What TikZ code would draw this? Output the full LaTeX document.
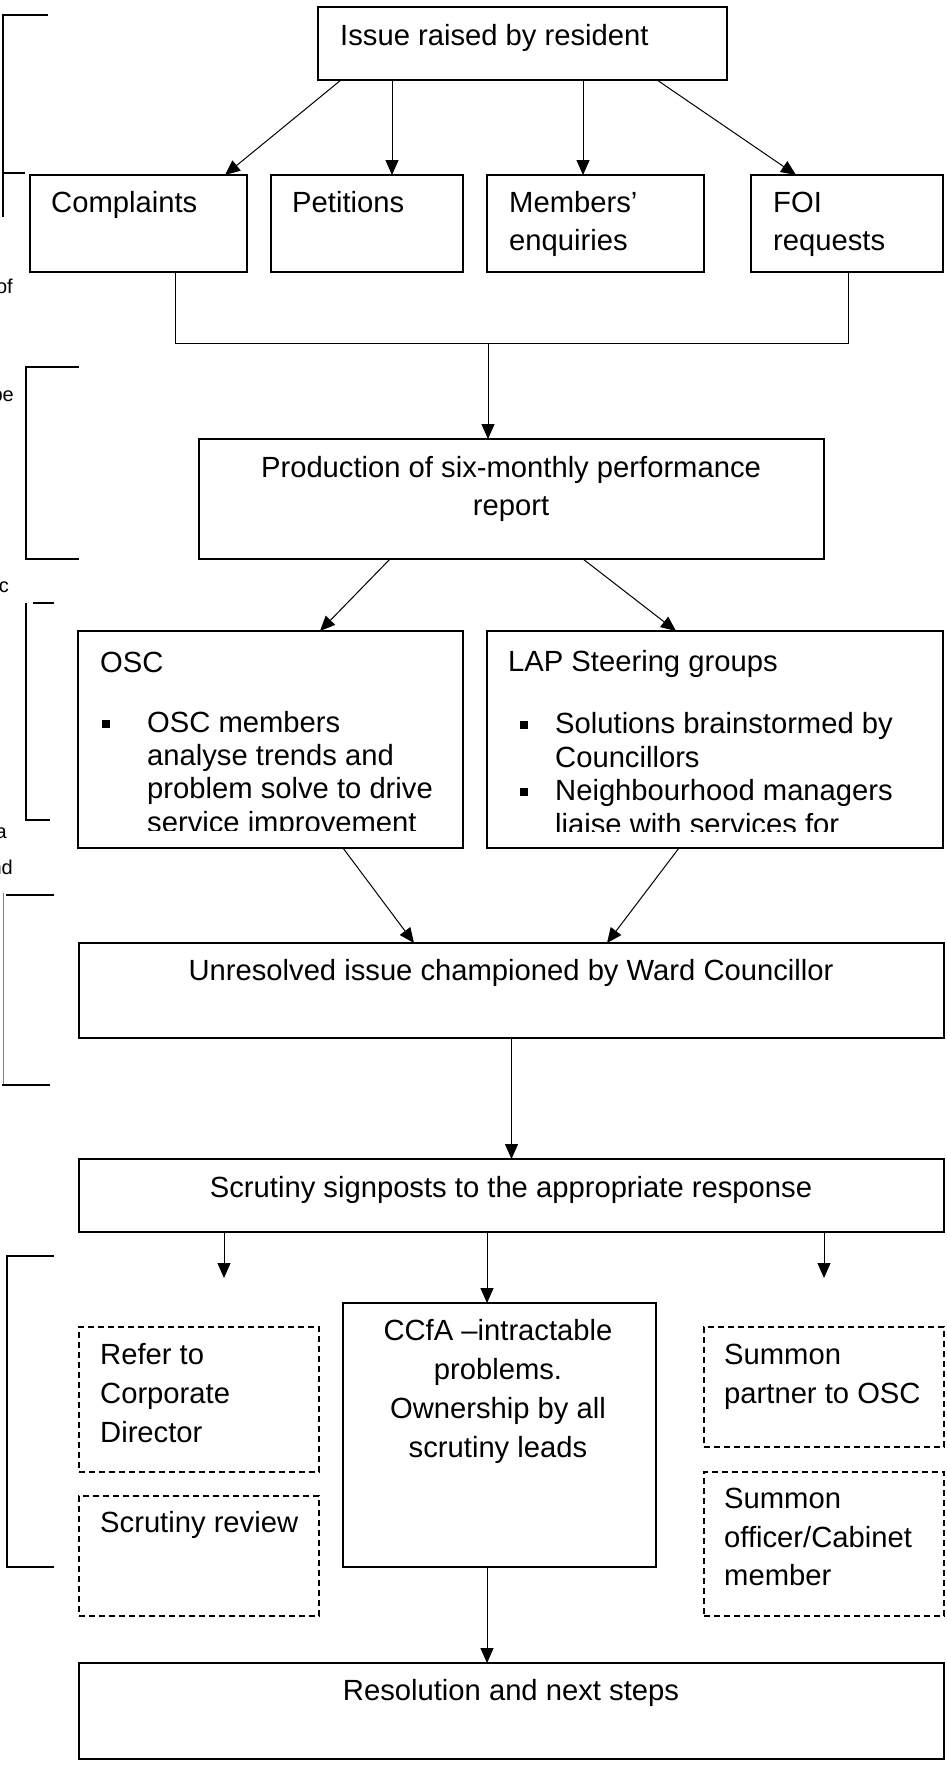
\documentclass[tikz,border=0pt]{standalone}
\usepackage{fontspec}
\setmainfont{Liberation Sans}
\usetikzlibrary{arrows.meta}
\begin{document}
\begin{tikzpicture}[x=1pt,y=-1pt,
  box/.style={draw,line width=1.3pt,inner sep=0pt,outer sep=0pt},
  dbox/.style={box,line width=1.1pt,dash pattern=on 6pt off 4pt},
  txt/.style={inner sep=0pt,font=\fontsize{29.2}{35}\selectfont},
  tl/.style={txt,anchor=base west},
  tc/.style={txt,anchor=base},
  frag/.style={inner sep=0pt,anchor=base east,font=\fontsize{20}{24}\selectfont},
  arr/.style={line width=1pt,-{Triangle[length=15pt,width=13pt]}},
  conn/.style={line width=1pt},
  brk/.style={line width=1.5pt},
  bul/.style={fill,minimum size=8pt,inner sep=0pt}]
\useasboundingbox (0,0) rectangle (946,1765);

% left bracket marks and cut-off fragments
\draw[brk] (48,15) -- (3,15) -- (3,217);
\draw[brk] (3,173) -- (25,173);
\draw[brk] (79,367) -- (26,367) -- (26,559) -- (79,559);
\draw[brk] (33,603) -- (54,603);
\draw[brk] (26,603) -- (26,820) -- (50,820);
\draw[line width=0.8pt,gray] (3,893) -- (3,1085);
\draw[brk] (6,895) -- (54,895);
\draw[brk] (2,1085) -- (50,1085);
\draw[brk] (54,1256) -- (7,1256) -- (7,1567) -- (54,1567);
\begin{scope}
\clip (0,0) rectangle (60,1765);
\node[frag] (f1) at (13,293) {of};
\node[frag] (f2) at (14,401) {be};
\node[frag] (f3) at (9,592) {nc};
\node[frag] (f4) at (7,838) {a};
\node[frag] (f5) at (13,874) {nd};
\end{scope}

% boxes
\node[box,minimum width=409pt,minimum height=73pt] (top) at (522.5,43.5) {};
\node[box,minimum width=217pt,minimum height=97pt] (cmp) at (138.5,223.5) {};
\node[box,minimum width=192pt,minimum height=97pt] (pet) at (367,223.5) {};
\node[box,minimum width=217pt,minimum height=97pt] (mem) at (595.5,223.5) {};
\node[box,minimum width=192pt,minimum height=97pt] (foi) at (847,223.5) {};
\node[box,minimum width=625pt,minimum height=120pt] (prod) at (511.5,499) {};
\node[box,minimum width=385pt,minimum height=217pt] (osc) at (270.5,739.5) {};
\node[box,minimum width=456pt,minimum height=217pt] (lap) at (715,739.5) {};
\node[box,minimum width=865pt,minimum height=95pt] (unres) at (511.5,990.5) {};
\node[box,minimum width=865pt,minimum height=73pt] (scr) at (511.5,1195.5) {};
\node[dbox,minimum width=240pt,minimum height=145pt] (refer) at (199,1399.5) {};
\node[dbox,minimum width=240pt,minimum height=120pt] (review) at (199,1556) {};
\node[box,minimum width=313pt,minimum height=264pt] (ccfa) at (499.5,1435) {};
\node[dbox,minimum width=240pt,minimum height=120pt] (partner) at (824,1387) {};
\node[dbox,minimum width=240pt,minimum height=144pt] (officer) at (824,1544) {};
\node[box,minimum width=865pt,minimum height=96pt] (res) at (511.5,1711) {};

% texts
\node[tl] (t1) at (340,45) {Issue raised by resident};
\node[tl] (t2) at (51,212) {Complaints};
\node[tl] (t3) at (292,212) {Petitions};
\node[tl] (t4) at (509,212) {Members’};
\node[tl] (t5) at (509,250) {enquiries};
\node[tl] (t6) at (773,212) {FOI};
\node[tl] (t7) at (773,250) {requests};
\node[tc] (t8) at (511,477) {Production of six-monthly performance};
\node[tc] (t9) at (511,515) {report};
\begin{scope}
\clip (osc.north west) rectangle ([yshift=18pt]osc.south east);
\node[tl] (o1) at (100,672) {OSC};
\node[bul] (ob1) at (106,724) {};
\node[tl] (o2) at (147,732) {OSC members};
\node[tl] (o3) at (147,765) {analyse trends and};
\node[tl] (o4) at (147,798) {problem solve to drive};
\node[tl] (o5) at (147,832) {service improvement};
\end{scope}
\begin{scope}
\clip (lap.north west) rectangle ([yshift=17pt]lap.south east);
\node[tl] (l1) at (508,671) {LAP Steering groups};
\node[bul] (lb1) at (524,725) {};
\node[tl] (l2) at (555,733) {Solutions brainstormed by};
\node[tl] (l3) at (555,767) {Councillors};
\node[bul] (lb2) at (524,792) {};
\node[tl] (l4) at (555,800) {Neighbourhood managers};
\node[tl] (l5) at (555,834) {liaise with services for};
\end{scope}
\node[tc] (t10) at (511,980) {Unresolved issue championed by Ward Councillor};
\node[tc] (t11) at (511,1197) {Scrutiny signposts to the appropriate response};
\node[tl] (r1) at (100,1364) {Refer to};
\node[tl] (r2) at (100,1403) {Corporate};
\node[tl] (r3) at (100,1442) {Director};
\node[tl] (r4) at (100,1532) {Scrutiny review};
\node[tc] (c1) at (498,1340) {CCfA –intractable};
\node[tc] (c2) at (498,1379) {problems.};
\node[tc] (c3) at (498,1418) {Ownership by all};
\node[tc] (c4) at (498,1457) {scrutiny leads};
\node[tl] (p1) at (724,1364) {Summon};
\node[tl] (p2) at (724,1403) {partner to OSC};
\node[tl] (s1) at (724,1508) {Summon};
\node[tl] (s2) at (724,1547) {officer/Cabinet};
\node[tl] (s3) at (724,1585) {member};
\node[tc] (t12) at (511,1700) {Resolution and next steps};

% connectors
\draw[arr] ([xshift=23pt]top.south west) -- ([xshift=195pt]cmp.north west);
\draw[arr] ([xshift=74pt]top.south west) -- ([xshift=121pt]pet.north west);
\draw[arr] ([xshift=265pt]top.south west) -- ([xshift=96pt]mem.north west);
\draw[arr] ([xshift=339pt]top.south west) -- ([xshift=45pt]foi.north west);
\coordinate (jl) at (175,343);
\coordinate (jr) at (848,343);
\coordinate (jm) at (488,343);
\draw[conn] ([xshift=145pt]cmp.south west) -- (jl) -- (jr) -- ([xshift=97pt]foi.south west);
\draw[arr] (jm) -- (jm |- prod.north);
\draw[arr] ([xshift=191pt]prod.south west) -- ([xshift=242pt]osc.north west);
\draw[arr] ([xshift=384pt]prod.south west) -- ([xshift=189pt]lap.north west);
\draw[arr] ([xshift=265pt]osc.south west) -- ([xshift=335pt]unres.north west);
\draw[arr] ([xshift=192pt]lap.south west) -- ([xshift=528pt]unres.north west);
\draw[arr] (unres.south) -- (scr.north);
\coordinate (e1) at (224,1278);
\coordinate (e2) at (824,1278);
\draw[arr] ([xshift=145pt]scr.south west) -- (e1);
\draw[arr] ([xshift=745pt]scr.south west) -- (e2);
\draw[arr] ([xshift=144pt]ccfa.north west |- scr.south) -- ([xshift=144pt]ccfa.north west);
\draw[arr] ([xshift=144pt]ccfa.south west) -- ([xshift=144pt]ccfa.south west |- res.north);
\end{tikzpicture}
\end{document}
